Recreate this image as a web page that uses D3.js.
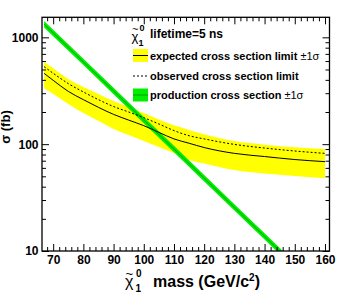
<!DOCTYPE html>
<html>
<head>
<meta charset="utf-8">
<script src="https://cdn.jsdelivr.net/npm/d3@7"></script>
<style>
  body { margin: 0; background: #fff; }
  svg { display: block; font-family: "Liberation Sans", Arial, Helvetica, sans-serif; }
  .axis path { display: none; }
  .axis line { stroke: #000; stroke-width: 1; }
  .axis text { font-size: 12px; font-weight: bold; fill: #000; }
</style>
</head>
<body>
<script>
// mass points for the limit curves (GeV/c^2)
const masses = [67, 70, 75, 80, 85, 90, 95, 100, 105, 110, 115, 120, 130, 140, 150, 160];
// expected limit, +-1 sigma band, observed limit (fb)
const expected = [460, 396, 312, 261, 221, 190, 168, 149, 129, 112, 102, 93, 82, 76.6, 71.8, 68.6];
const expUp    = [592, 514, 407, 343, 295, 253, 223, 196, 170, 150, 136, 124, 107, 99, 93.4, 90];
const expDown  = [333, 295, 238, 196, 165, 139, 122, 107, 94, 82.6, 71, 66, 57.3, 53, 50.4, 47.9];
const observed = [531, 461, 369, 308, 261, 225, 200, 177, 154.5, 134, 120, 112, 99.5, 92, 86.3, 82];

// production cross section and its +-1 sigma band (fb)
const prodMasses = [67, 70, 80, 90, 100, 110, 120, 130, 140, 150];
const prodXsec   = [1327, 1099, 589, 315, 168, 90, 48, 25.6, 13.7, 7.3];
const prodUp     = [1420, 1177, 631, 338, 180, 96.4, 51.4, 27.4, 14.7, 7.8];
const prodDown   = [1238, 1026, 550, 294, 157, 84, 44.8, 23.9, 12.8, 6.8];

// axis ticks
const xMajor = [70, 80, 90, 100, 110, 120, 130, 140, 150, 160];
const xMinor = [68, 72, 74, 76, 78, 82, 84, 86, 88, 92, 94, 96, 98, 102, 104, 106, 108,
                112, 114, 116, 118, 122, 124, 126, 128, 132, 134, 136, 138, 142, 144, 146, 148,
                152, 154, 156, 158];
const yMajor = [10, 100, 1000];
const yMinor = [20, 30, 40, 50, 60, 70, 80, 90, 200, 300, 400, 500, 600, 700, 800, 900];

const width = 355, height = 296;
const margin = {top: 17.3, right: 25.5, bottom: 45, left: 42};
const innerWidth = width - margin.left - margin.right;
const innerHeight = height - margin.top - margin.bottom;

const svg = d3.select("body").append("svg")
  .attr("width", width)
  .attr("height", height);

const x = d3.scaleLinear().domain([66.3, 161.5]).range([0, innerWidth]);
const y = d3.scaleLog().domain([10, 1540]).range([innerHeight, 0]);

const g = svg.append("g").attr("transform", `translate(${margin.left},${margin.top})`);

g.append("clipPath").attr("id", "clip")
  .append("rect").attr("width", innerWidth).attr("height", innerHeight);

const plot = g.append("g").attr("clip-path", "url(#clip)");

// expected band
const limits = masses.map((m, i) => ({m, exp: expected[i], up: expUp[i], down: expDown[i], obs: observed[i]}));
plot.append("path")
  .datum(limits)
  .attr("fill", "#ffff00")
  .attr("d", d3.area().curve(d3.curveMonotoneX).x(d => x(d.m)).y0(d => y(d.down)).y1(d => y(d.up)));

// production band
const prod = prodMasses.map((m, i) => ({m, v: prodXsec[i], up: prodUp[i], down: prodDown[i]}));
plot.append("path")
  .datum(prod)
  .attr("fill", "#00ee00")
  .attr("d", d3.area().x(d => x(d.m)).y0(d => y(d.down)).y1(d => y(d.up)));
plot.append("path")
  .datum(prod)
  .attr("fill", "none")
  .attr("stroke", "#00a000")
  .attr("stroke-width", 1)
  .attr("d", d3.line().x(d => x(d.m)).y(d => y(d.v)));

// expected and observed lines
plot.append("path")
  .datum(limits)
  .attr("fill", "none")
  .attr("stroke", "#000")
  .attr("stroke-width", 1)
  .attr("d", d3.line().curve(d3.curveMonotoneX).x(d => x(d.m)).y(d => y(d.exp)));
plot.append("path")
  .datum(limits)
  .attr("fill", "none")
  .attr("stroke", "#000")
  .attr("stroke-width", 1)
  .attr("stroke-dasharray", "2,2")
  .attr("d", d3.line().curve(d3.curveMonotoneX).x(d => x(d.m)).y(d => y(d.obs)));

// axes, ticks pointing inwards on all four sides
function ticksOnly(sel) { sel.selectAll("text").remove(); }

g.append("g").attr("class", "axis")
  .attr("transform", `translate(0,${innerHeight})`)
  .call(d3.axisBottom(x).tickValues(xMajor).tickSize(-7).tickPadding(4).tickFormat(d3.format("d")));
g.append("g").attr("class", "axis")
  .attr("transform", `translate(0,${innerHeight})`)
  .call(d3.axisBottom(x).tickValues(xMinor).tickSize(-4)).call(ticksOnly);
g.append("g").attr("class", "axis")
  .call(d3.axisTop(x).tickValues(xMajor).tickSize(-7)).call(ticksOnly);
g.append("g").attr("class", "axis")
  .call(d3.axisTop(x).tickValues(xMinor).tickSize(-4)).call(ticksOnly);

g.append("g").attr("class", "axis")
  .call(d3.axisLeft(y).tickValues(yMajor).tickSize(-7).tickPadding(3.5).tickFormat(d3.format("d")));
g.append("g").attr("class", "axis")
  .call(d3.axisLeft(y).tickValues(yMinor).tickSize(-4)).call(ticksOnly);
g.append("g").attr("class", "axis")
  .attr("transform", `translate(${innerWidth},0)`)
  .call(d3.axisRight(y).tickValues(yMajor).tickSize(-7)).call(ticksOnly);
g.append("g").attr("class", "axis")
  .attr("transform", `translate(${innerWidth},0)`)
  .call(d3.axisRight(y).tickValues(yMinor).tickSize(-4)).call(ticksOnly);

// frame
g.append("rect")
  .attr("width", innerWidth)
  .attr("height", innerHeight)
  .attr("fill", "none")
  .attr("stroke", "#000")
  .attr("stroke-width", 1.3);

// axis titles
svg.append("text")
  .attr("transform", "translate(10,127) rotate(-90)")
  .attr("text-anchor", "middle")
  .style("font-size", "13px")
  .style("font-weight", "bold")
  .text("σ (fb)");

const xt = svg.append("g").style("font-weight", "bold");
xt.append("text").attr("x", 125).attr("y", 287).style("font-size", "16px").style("font-weight", "normal").text("χ");
xt.append("text").attr("x", 125.5).attr("y", 278).style("font-size", "13px").style("font-weight", "normal").text("~");
xt.append("text").attr("x", 136).attr("y", 277).style("font-size", "10px").text("0");
xt.append("text").attr("x", 135.5).attr("y", 292).style("font-size", "10px").text("1");
const xm = xt.append("text").attr("x", 153).attr("y", 287).style("font-size", "16px").text("mass (GeV/c");
xm.append("tspan").attr("dy", -6).style("font-size", "10px").text("2");
xm.append("tspan").attr("dy", 6).text(")");

// legend
const lg = svg.append("g");
lg.append("text").attr("x", 131.5).attr("y", 41).style("font-size", "13px").text("χ");
lg.append("text").attr("x", 132).attr("y", 32.5).style("font-size", "11px").text("~");
lg.append("text").attr("x", 139.5).attr("y", 30.5).style("font-size", "9px").style("font-weight", "bold").text("0");
lg.append("text").attr("x", 138.5).attr("y", 46).style("font-size", "9px").style("font-weight", "bold").text("1");
lg.append("text").attr("x", 150).attr("y", 38).style("font-size", "12px").style("font-weight", "bold").text("lifetime=5 ns");

const rows = [
  {label: "expected cross section limit ", sig: "±1σ", yc: 55.5},
  {label: "observed cross section limit", sig: "", yc: 76},
  {label: "production cross section ", sig: "±1σ", yc: 95}
];
// expected symbol
lg.append("rect").attr("x", 133).attr("y", rows[0].yc - 6.5).attr("width", 15).attr("height", 13).attr("fill", "#ffff00");
lg.append("line").attr("x1", 133).attr("x2", 148).attr("y1", rows[0].yc).attr("y2", rows[0].yc).attr("stroke", "#000").attr("stroke-width", 1);
// observed symbol
lg.append("line").attr("x1", 133).attr("x2", 148).attr("y1", rows[1].yc).attr("y2", rows[1].yc)
  .attr("stroke", "#000").attr("stroke-width", 1).attr("stroke-dasharray", "2,2");
// production symbol
lg.append("rect").attr("x", 133).attr("y", rows[2].yc - 6.5).attr("width", 15).attr("height", 13).attr("fill", "#00ee00");
lg.append("line").attr("x1", 133).attr("x2", 148).attr("y1", rows[2].yc).attr("y2", rows[2].yc).attr("stroke", "#00a000").attr("stroke-width", 1);

rows.forEach(r => {
  const t = lg.append("text").attr("x", 150).attr("y", r.yc + 4)
    .style("font-size", "11px").style("font-weight", "bold").text(r.label);
  if (r.sig) t.append("tspan").style("font-weight", "normal").text(r.sig);
});
</script>
</body>
</html>
